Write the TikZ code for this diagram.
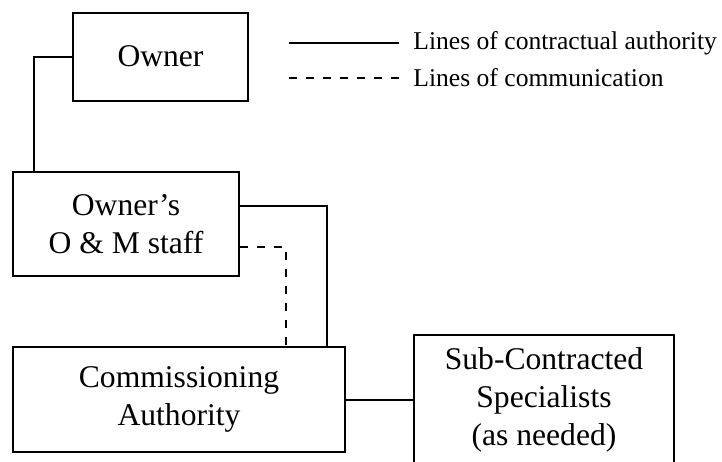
\documentclass[tikz,border=0pt]{standalone}
\usepackage{fontspec}
\setmainfont{Liberation Serif}
\tikzset{
  orgbox/.style={draw,line width=1pt,align=center,inner sep=0pt,
    font=\fontsize{15.8}{19}\selectfont},
  legtext/.style={anchor=west,inner sep=0pt,font=\fontsize{12.8}{15}\selectfont},
  comm/.style={line width=1pt,dash pattern=on 4pt off 4.5pt},
}
\begin{document}
\begin{tikzpicture}[x=0.5pt,y=-0.5pt]
\useasboundingbox (0,0) rectangle (722,461);
%\draw[step=50,gray,very thin] (0,0) grid (722,461);
\node[orgbox,minimum width=87.5pt,minimum height=44pt] (owner) at (160.5,56.5) {Owner};
\node[orgbox,minimum width=113pt,minimum height=52pt] (staff) at (126,224) {Owner's\\O \& M staff};
\node[orgbox,minimum width=166pt,minimum height=52.5pt] (ca) at (179,399.5) {Commissioning\\Authority};
\node[orgbox,minimum width=130pt,minimum height=65pt] (sub) at (544,400) {Sub-Contracted\\Specialists\\(as needed)};
% connectors
\draw[line width=1pt] (owner.west) -| ([xshift=11pt]staff.north west);
\draw[line width=1pt] ([yshift=9pt]staff.east) -| ([xshift=-9.5pt]ca.north east);
\draw[comm] ([yshift=-11.5pt]staff.east) -| ([xshift=-30pt]ca.north east);
\draw[line width=1pt] (ca.east) -- (ca.east -| sub.west);
% legend
\node[legtext] (authority) at (413,43) {Lines of contractual authority};
\node[legtext] (communication) at (413,78) {Lines of communication};
\coordinate (solidstart) at (289,43);
\coordinate (dashstart) at (289,78);
\draw[line width=1pt] (solidstart) -- ([xshift=-7pt]authority.west);
\draw[comm] (dashstart) -- ([xshift=-7pt]communication.west);
\end{tikzpicture}
\end{document}
